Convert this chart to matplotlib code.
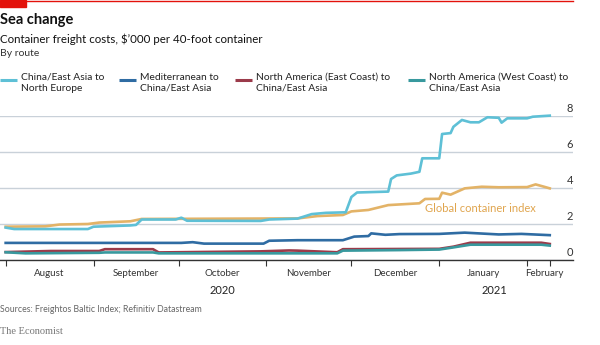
import matplotlib
matplotlib.use('Agg')
import matplotlib.pyplot as plt
import matplotlib.dates as mdates
import matplotlib.transforms as mtrans
from matplotlib.lines import Line2D
from matplotlib.patches import Rectangle
import datetime as dt

# ---------------- data ----------------
ne_dates = ["2020-08-01", "2020-08-04", "2020-08-30", "2020-09-01", "2020-09-14", "2020-09-16",
            "2020-09-18", "2020-09-30", "2020-10-02", "2020-10-04", "2020-10-30", "2020-11-02",
            "2020-11-12", "2020-11-17", "2020-11-22", "2020-11-29", "2020-12-01", "2020-12-03",
            "2020-12-14", "2020-12-15", "2020-12-17", "2020-12-22", "2020-12-25", "2020-12-26",
            "2021-01-01", "2021-01-02", "2021-01-05", "2021-01-06", "2021-01-09", "2021-01-12",
            "2021-01-15", "2021-01-18", "2021-01-22", "2021-01-23", "2021-01-25", "2021-02-01",
            "2021-02-03", "2021-02-09"]
ne_vals = [1.80, 1.72, 1.72, 1.85, 1.92, 1.95,
           2.25, 2.25, 2.35, 2.18, 2.17, 2.25,
           2.30, 2.55, 2.62, 2.65, 3.50, 3.75,
           3.80, 4.50, 4.70, 4.80, 4.90, 5.65,
           5.65, 7.00, 7.05, 7.40, 7.78, 7.65,
           7.65, 7.93, 7.90, 7.63, 7.87, 7.87,
           7.96, 8.02]

gci_dates = ["2020-08-01", "2020-08-15", "2020-08-20", "2020-08-30", "2020-09-03", "2020-09-14",
             "2020-09-18", "2020-11-12", "2020-11-19", "2020-11-28", "2020-12-01", "2020-12-07",
             "2020-12-14", "2020-12-25", "2020-12-27", "2021-01-01", "2021-01-02", "2021-01-05",
             "2021-01-10", "2021-01-16", "2021-01-22", "2021-02-01", "2021-02-04", "2021-02-07",
             "2021-02-09"]
gci_vals = [1.85, 1.87, 1.97, 2.00, 2.08, 2.15,
            2.28, 2.31, 2.44, 2.50, 2.70, 2.78,
            3.05, 3.15, 3.39, 3.40, 3.74, 3.63,
            3.98, 4.07, 4.04, 4.05, 4.20, 4.07,
            3.98]

med_dates = ["2020-08-01", "2020-10-02", "2020-10-06", "2020-10-10", "2020-10-31", "2020-11-02",
             "2020-11-12", "2020-11-28", "2020-12-02", "2020-12-07", "2020-12-08", "2020-12-13",
             "2020-12-18", "2021-01-01", "2021-01-10", "2021-01-22", "2021-01-30", "2021-02-09"]
med_vals = [0.95, 0.95, 0.99, 0.91, 0.91, 1.07,
            1.10, 1.10, 1.30, 1.33, 1.48, 1.40,
            1.44, 1.45, 1.52, 1.42, 1.45, 1.38]

nae_dates = ["2020-08-01", "2020-08-17", "2020-09-03", "2020-09-05", "2020-09-22", "2020-09-24",
             "2020-10-30", "2020-11-09", "2020-11-12", "2020-11-26", "2020-11-28", "2021-01-01",
             "2021-01-06", "2021-01-12", "2021-02-06", "2021-02-09"]
nae_vals = [0.44, 0.50, 0.50, 0.60, 0.60, 0.42,
            0.48, 0.53, 0.52, 0.43, 0.60, 0.62,
            0.74, 0.96, 0.96, 0.89]

naw_dates = ["2020-08-01", "2020-08-08", "2020-09-03", "2020-09-05", "2020-09-22", "2020-09-24",
             "2020-11-26", "2020-11-28", "2020-12-18", "2021-01-01", "2021-01-06", "2021-01-12",
             "2021-02-06", "2021-02-09"]
naw_vals = [0.43, 0.37, 0.40, 0.42, 0.42, 0.37,
            0.37, 0.52, 0.55, 0.58, 0.70, 0.85,
            0.85, 0.80]

legend_labels = ["China/East Asia to\nNorth Europe",
                 "Mediterranean to\nChina/East Asia",
                 "North America (East Coast) to\nChina/East Asia",
                 "North America (West Coast) to\nChina/East Asia"]
yticks = [0, 2, 4, 6, 8]
month_ticks = ["2020-08-01", "2020-09-01", "2020-10-01", "2020-11-01", "2020-12-01",
               "2021-01-01", "2021-02-01", "2021-02-09"]
month_labels = ["August", "September", "October", "November", "December", "January", "February"]
year_labels = ["2020", "2021"]

# ---------------- style ----------------
C_NE = '#5ec0d6'
C_MED = '#2f6ca3'
C_NAE = '#9b3b4a'
C_NAW = '#38999e'
C_GCI = '#e3b367'
FONT = ['Lato', 'DejaVu Sans']
plt.rcParams['font.family'] = FONT

def d(s):
    return dt.datetime.strptime(s, "%Y-%m-%d")

fig = plt.figure(figsize=(6, 3.45), dpi=100)
W, H = 600, 345
ax = fig.add_axes([0, 85 / H, 573 / W, 144 / H])

lw = 1.9
ax.plot([d(s) for s in gci_dates], gci_vals, color=C_GCI, lw=lw, solid_joinstyle='round', zorder=3, clip_on=False)
ax.plot([d(s) for s in ne_dates], ne_vals, color=C_NE, lw=lw, solid_joinstyle='round', zorder=4, clip_on=False)
ax.plot([d(s) for s in med_dates], med_vals, color=C_MED, lw=lw, solid_joinstyle='round', zorder=4, clip_on=False)
ax.plot([d(s) for s in nae_dates], nae_vals, color=C_NAE, lw=lw, solid_joinstyle='round', zorder=4, clip_on=False)
ax.plot([d(s) for s in naw_dates], naw_vals, color=C_NAW, lw=lw, solid_joinstyle='round', zorder=5, clip_on=False)

ax.set_xlim(d("2020-07-30"), d("2020-07-30") + dt.timedelta(days=202.2))
ax.set_ylim(0, 8)
for sp in ['top', 'left', 'right']:
    ax.spines[sp].set_visible(False)
ax.spines['bottom'].set_color('#333333')
ax.spines['bottom'].set_linewidth(1.0)
ax.spines['bottom'].set_zorder(6)

ax.set_yticks(yticks)
ax.yaxis.grid(True, color='#c9d1d9', lw=1.0, zorder=0)
ax.tick_params(axis='y', length=0, labelleft=False)
ax.set_xticks([d(s) for s in month_ticks])
ax.tick_params(axis='x', direction='out', length=4, width=0.8, color='#333333', labelbottom=False)
ax.set_axisbelow(True)

# y labels above gridlines, right aligned
ytr = mtrans.blended_transform_factory(ax.transAxes, ax.transData)
for v in yticks:
    ax.text(1.0, v + 0.2, str(v), transform=ytr, ha='right', va='baseline', fontsize=8, color='#333333')

# month labels
xtr = mtrans.blended_transform_factory(ax.transData, fig.transFigure)
tk = [mdates.date2num(d(s)) for s in month_ticks]
for i, lab in enumerate(month_labels):
    if i < len(month_labels) - 1:
        xc = (tk[i] + tk[i + 1]) / 2
    else:
        xc = tk[i] + 6
    fig.text(xc, 1 - 274 / H, lab, transform=xtr, ha='center', va='center', fontsize=7, color='#333333')
fig.text((tk[0] + tk[5]) / 2, 1 - 291 / H, year_labels[0], transform=xtr, ha='center', va='center', fontsize=8, color='#222222')
fig.text((tk[5] + tk[7]) / 2, 1 - 291 / H, year_labels[1], transform=xtr, ha='center', va='center', fontsize=8, color='#222222')

# Global container index label
ax.text(d("2020-12-27"), 2.85, "Global container index", ha='left', va='center', fontsize=8, color='#e0a54e')

# titles
fig.patches.append(Rectangle((0, 1 - 7 / H), 26 / W, 7 / H, transform=fig.transFigure, color='#e3120b', zorder=10))
fig.add_artist(Line2D([0, 573 / W], [1 - 0.7 / H, 1 - 0.7 / H], transform=fig.transFigure, color='#e3120b', lw=1.0))
fig.text(0, 1 - 20 / H, "Sea change", ha='left', va='center', fontsize=10.5, fontweight='bold', color='#111111')
fig.text(0, 1 - 39.5 / H, "Container freight costs, $’000 per 40-foot container", ha='left', va='center', fontsize=8.3, color='#111111')
fig.text(0, 1 - 54 / H, "By route", ha='left', va='center', fontsize=7.5, color='#333333')

# legend
leg_colors = [C_NE, C_MED, C_NAE, C_NAW]
leg_x = [0, 119, 235, 408]
for lab, c, x0 in zip(legend_labels, leg_colors, leg_x):
    fig.add_artist(Line2D([x0 / W, (x0 + 17) / W], [1 - 80 / H, 1 - 80 / H], transform=fig.transFigure, color=c, lw=2.2, solid_capstyle='butt'))
    fig.text((x0 + 21) / W, 1 - 73 / H, lab, ha='left', va='top', fontsize=7.4, color='#222222', linespacing=1.25)

# footer
fig.text(0, 1 - 309 / H, "Sources: Freightos Baltic Index; Refinitiv Datastream", ha='left', va='center', fontsize=6.3, color='#666666')
fig.text(0, 1 - 331 / H, "The Economist", ha='left', va='center', fontsize=7.5, color='#777777', family=['Liberation Serif', 'DejaVu Serif'])

fig.savefig('out.png', dpi=100)
